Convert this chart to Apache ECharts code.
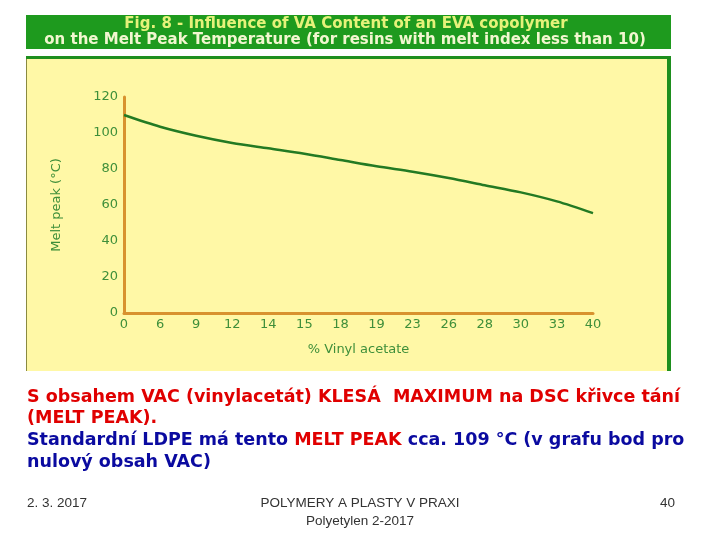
<!DOCTYPE html>
<html><head><meta charset="utf-8">
<script src="https://cdn.jsdelivr.net/npm/echarts@6/dist/echarts.min.js"></script>
<style>html,body{margin:0;padding:0;background:#fff}#c{width:720px;height:540px}</style>
</head><body><div id="c"></div>
<script>
var categories = ['0','6','9','12','14','15','18','19','23','26','28','30','33','40'];
var meltPeak = [110,103.5,98.5,94.5,91.5,88.5,85,81.5,78.5,75,71,67,62,55.5];
var yTicks = [0,20,40,60,80,100,120];
var titleLines = ['Fig. 8 - Influence of VA Content of an EVA copolymer','on the Melt Peak Temperature (for resins with melt index less than 10)'];
var xName = '% Vinyl acetate';
var yName = 'Melt peak (°C)';

var chart = echarts.init(document.getElementById('c'));
var lbl = '#3f8f3a', axisCol = '#d8922e';
chart.setOption({
  backgroundColor: '#ffffff',
  animation: false,
  graphic: [
    {type:'rect', z:-10, shape:{x:26,y:15,width:645,height:34}, style:{fill:'#1e9a1e'}},
    {type:'rect', z:-10, shape:{x:26,y:56,width:645,height:315}, style:{fill:'#fff8a6'}},
    {type:'rect', z:-9, shape:{x:26,y:56,width:645,height:3}, style:{fill:'#1e8f1e'}},
    {type:'rect', z:-9, shape:{x:667,y:56,width:4,height:315}, style:{fill:'#1e8f1e'}},
    {type:'rect', z:-9, shape:{x:26,y:59,width:1,height:312}, style:{fill:'#8a8a40'}},
    {type:'text', x:346, y:17, style:{text:titleLines[0], font:'bold 15px "DejaVu Sans"', fill:'#e6f27a', textAlign:'center'}},
    {type:'text', x:345, y:33, style:{text:titleLines[1], font:'bold 15px "DejaVu Sans"', fill:'#f2f7d0', textAlign:'center'}},
    {type:'text', left:27, top:388, style:{
      rich:{r:{fill:'#e00000',font:'bold 17.5px "DejaVu Sans"',lineHeight:21.7}, b:{fill:'#0a0aa0',font:'bold 17.5px "DejaVu Sans"',lineHeight:21.7}},
      text:'{r|S obsahem VAC (vinylacetát) KLESÁ  MAXIMUM na DSC křivce tání}\n{r|(MELT PEAK).}\n{b|Standardní LDPE má tento }{r|MELT PEAK}{b| cca. 109 °C (v grafu bod pro}\n{b|nulový obsah VAC)}'
    }},
    {type:'text', left:27, top:496, style:{text:'2. 3. 2017', font:'13.5px "Liberation Sans"', fill:'#333'}},
    {type:'text', left:'center', top:496, style:{text:'POLYMERY A PLASTY V PRAXI', font:'13.5px "Liberation Sans"', fill:'#333'}},
    {type:'text', left:'center', top:514, style:{text:'Polyetylen 2-2017', font:'13.5px "Liberation Sans"', fill:'#333'}},
    {type:'text', left:660, top:496, style:{text:'40', font:'13.5px "Liberation Sans"', fill:'#333'}}
  ],
  grid: {left:124, top:97, width:469, height:216},
  xAxis: {
    type:'category', data:categories, boundaryGap:false,
    axisLine:{lineStyle:{color:axisCol,width:3}}, axisTick:{show:false},
    axisLabel:{color:lbl, fontSize:13, margin:5, fontFamily:'DejaVu Sans'},
    name:xName, nameLocation:'middle', nameGap:30,
    nameTextStyle:{color:lbl, fontSize:13, fontFamily:'DejaVu Sans'}
  },
  yAxis: {
    type:'value', min:yTicks[0], max:yTicks[yTicks.length-1], interval:20,
    axisLine:{show:true, lineStyle:{color:axisCol,width:3}}, axisTick:{show:false}, splitLine:{show:false},
    axisLabel:{color:lbl, fontSize:13, margin:6, fontFamily:'DejaVu Sans'},
    name:yName, nameLocation:'middle', nameGap:61, nameRotate:90,
    nameTextStyle:{color:lbl, fontSize:13, fontFamily:'DejaVu Sans'}
  },
  series: [{
    type:'line', data:meltPeak, smooth:0.3, symbol:'none',
    lineStyle:{color:'#237a23', width:2.5}
  }]
});
</script></body></html>
